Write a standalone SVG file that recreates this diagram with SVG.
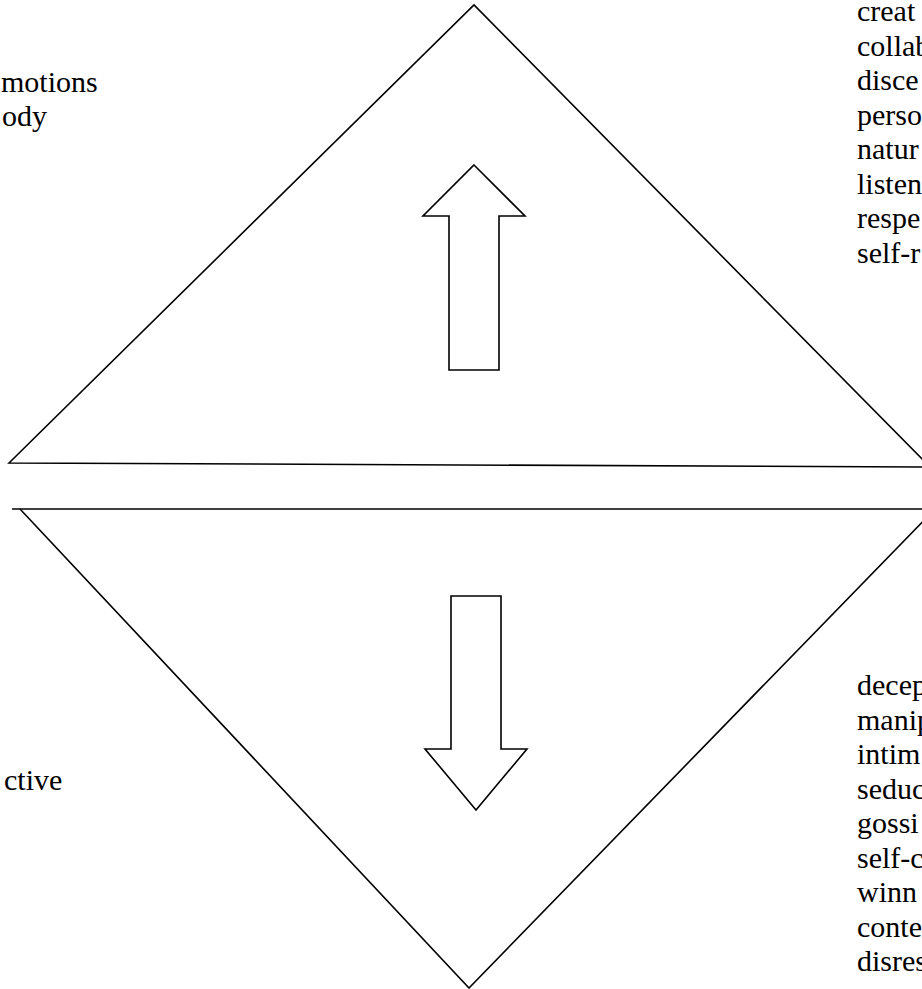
<svg xmlns="http://www.w3.org/2000/svg" width="922" height="989" viewBox="0 0 922 989">
<style>
.shape{fill:none;stroke:#000;stroke-width:1.6;stroke-linejoin:miter}
.arrow{fill:#fff;stroke:#000;stroke-width:1.6;stroke-linejoin:miter}
text{font-family:'Liberation Serif','Times New Roman',serif;font-size:30px;fill:#000}
</style>
<rect width="922" height="989" fill="#fff"/>
<g id="top-triangle">
<polygon class="shape" points="9,463 474,5 930,467"/>
</g>
<g id="bottom-triangle">
<line class="shape" x1="12" y1="509" x2="935" y2="509"/>
<polyline class="shape" points="20,509 469,988 935,509"/>
</g>
<g id="up-arrow">
<polygon class="arrow" points="474,165 525,216 499,216 499,370 449,370 449,216 423,216"/>
</g>
<g id="down-arrow">
<polygon class="arrow" points="451,596 501,596 501,749 527,749 476,810 425,749 451,749"/>
</g>
<g id="left-top-text">
<text x="1" y="92">motions</text>
<text x="2" y="126">ody</text>
</g>
<g id="left-bottom-text">
<text x="4" y="790">ctive</text>
</g>
<g id="right-top-text">
<text x="857" y="21">creat</text>
<text x="857" y="55.5">collab</text>
<text x="857" y="90">disce</text>
<text x="857" y="124.5">perso</text>
<text x="857" y="159">natur</text>
<text x="857" y="193.5">listen</text>
<text x="857" y="228">respe</text>
<text x="857" y="262.5">self-r</text>
</g>
<g id="right-bottom-text">
<text x="857" y="695">decep</text>
<text x="857" y="729.5">manip</text>
<text x="857" y="764">intim</text>
<text x="857" y="798.5">seduc</text>
<text x="857" y="833">gossi</text>
<text x="857" y="867.5">self-c</text>
<text x="857" y="902">winn</text>
<text x="857" y="936.5">conte</text>
<text x="857" y="971">disres</text>
</g>
<g id="connectors"></g>
</svg>
